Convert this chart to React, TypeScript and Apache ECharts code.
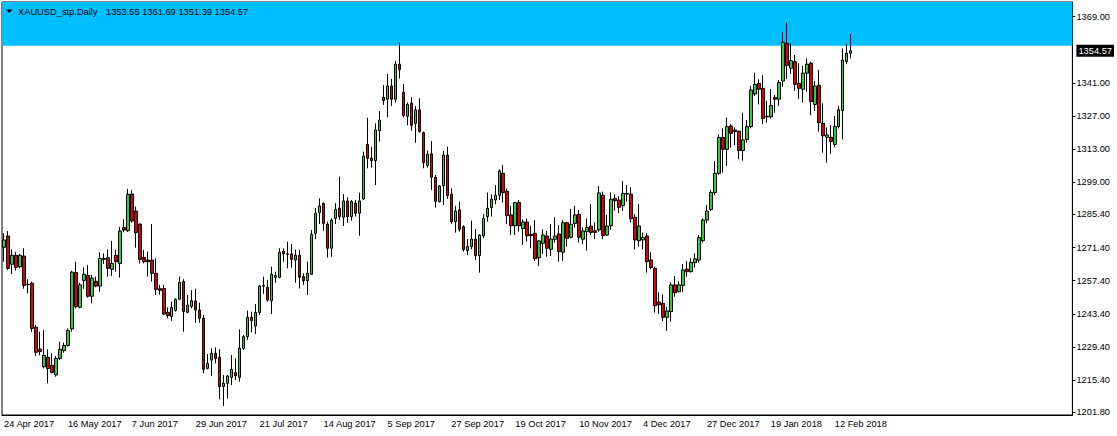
import React, { useEffect, useRef } from "react";
import * as echarts from "echarts";

// Date labels shown every 16 bars
const tickLabels = [
  "24 Apr 2017", "16 May 2017", "7 Jun 2017", "29 Jun 2017", "21 Jul 2017", "14 Aug 2017",
  "5 Sep 2017", "27 Sep 2017", "19 Oct 2017", "10 Nov 2017", "4 Dec 2017", "27 Dec 2017",
  "19 Jan 2018", "12 Feb 2018",
];
const labelStep = 16;
const totalSlots = 268; // bars + empty right margin

const opens = [
  1271.5, 1276.3, 1264.3, 1268.1, 1263.3, 1267.8, 1255.9, 1256.3, 1237.7, 1228.5,
  1221.0, 1225.0, 1221.6, 1217.5, 1224.5, 1227.8, 1230.0, 1237.0, 1260.8, 1246.1,
  1257.5, 1259.6, 1250.8, 1257.1, 1255.1, 1266.4, 1267.1, 1262.2, 1268.1, 1264.7,
  1279.9, 1278.5, 1294.0, 1286.8, 1281.3, 1267.2, 1266.1, 1266.1, 1260.5, 1254.0,
  1254.1, 1244.0, 1242.3, 1244.8, 1249.6, 1257.0, 1244.0, 1246.5, 1248.8, 1245.0,
  1241.5, 1220.3, 1223.8, 1226.7, 1225.0, 1212.6, 1214.0, 1216.5, 1218.6, 1216.5,
  1228.8, 1233.7, 1241.9, 1238.2, 1243.9, 1255.1, 1254.6, 1248.9, 1258.8, 1258.8,
  1269.8, 1268.7, 1268.7, 1266.1, 1268.1, 1259.1, 1257.4, 1260.1, 1277.4, 1286.1,
  1290.1, 1281.3, 1271.1, 1283.7, 1288.0, 1284.2, 1291.1, 1284.5, 1290.1, 1285.9,
  1291.9, 1315.0, 1309.2, 1308.1, 1320.8, 1334.9, 1334.1, 1339.7, 1334.1, 1348.9,
  1337.0, 1326.9, 1332.4, 1323.9, 1329.6, 1320.0, 1306.0, 1311.0, 1301.1, 1290.8,
  1297.6, 1310.5, 1294.0, 1282.3, 1287.3, 1280.2, 1270.1, 1271.8, 1275.0, 1268.0,
  1276.3, 1284.5, 1288.3, 1291.5, 1293.5, 1302.8, 1295.2, 1285.2, 1280.6, 1290.4,
  1279.4, 1282.2, 1277.0, 1277.4, 1267.1, 1273.2, 1276.3, 1270.6, 1274.9, 1277.1,
  1269.4, 1281.9, 1275.7, 1281.6, 1285.4, 1274.9, 1278.1, 1280.5, 1278.5, 1278.8,
  1293.5, 1276.7, 1280.6, 1292.2, 1291.5, 1289.1, 1294.2, 1294.0, 1284.2, 1274.3,
  1274.6, 1276.3, 1266.1, 1262.6, 1248.4, 1247.8, 1241.9, 1244.3, 1255.6, 1252.7,
  1255.3, 1262.3, 1261.2, 1265.0, 1266.1, 1274.3, 1283.0, 1287.5, 1294.6, 1302.8,
  1317.9, 1312.9, 1322.8, 1321.1, 1320.6, 1312.4, 1317.1, 1322.5, 1336.3, 1340.8,
  1338.7, 1326.6, 1326.7, 1334.9, 1334.1, 1341.8, 1357.7, 1347.2, 1350.0, 1340.8,
  1338.3, 1345.1, 1349.3, 1331.9, 1340.0, 1323.9, 1318.0, 1318.0, 1315.0, 1322.5,
  1329.3, 1350.0, 1353.55,
];
const highs = [
  1277.4, 1278.4, 1270.6, 1269.6, 1268.7, 1271.1, 1258.0, 1257.0, 1238.6, 1235.8,
  1236.5, 1228.4, 1226.7, 1225.5, 1231.6, 1231.2, 1237.2, 1261.6, 1265.4, 1256.5,
  1263.0, 1264.0, 1259.9, 1259.1, 1269.4, 1268.9, 1270.6, 1274.2, 1270.4, 1280.2,
  1283.3, 1296.2, 1295.7, 1288.7, 1281.6, 1270.4, 1269.7, 1281.3, 1266.8, 1255.6,
  1255.6, 1246.1, 1248.5, 1249.9, 1259.1, 1258.0, 1251.3, 1253.4, 1254.0, 1248.1,
  1242.9, 1226.4, 1228.8, 1229.2, 1228.4, 1217.5, 1217.5, 1226.0, 1224.5, 1236.8,
  1234.4, 1244.7, 1244.3, 1247.5, 1255.6, 1259.1, 1257.7, 1263.3, 1261.2, 1271.1,
  1271.1, 1273.9, 1272.9, 1270.6, 1270.4, 1260.5, 1265.4, 1278.8, 1288.0, 1292.2,
  1290.4, 1282.3, 1283.7, 1290.1, 1301.4, 1294.0, 1292.6, 1291.5, 1291.5, 1294.6,
  1311.9, 1326.3, 1314.0, 1323.9, 1329.1, 1340.1, 1344.8, 1342.7, 1350.3, 1358.0,
  1340.5, 1332.7, 1334.9, 1331.2, 1334.5, 1320.4, 1312.4, 1316.4, 1302.1, 1297.8,
  1312.2, 1314.0, 1296.4, 1289.0, 1290.8, 1280.8, 1275.0, 1282.8, 1279.2, 1277.0,
  1285.6, 1294.6, 1293.9, 1297.8, 1304.5, 1306.4, 1296.3, 1289.0, 1290.8, 1291.5,
  1283.3, 1283.7, 1280.5, 1283.0, 1274.6, 1279.1, 1278.4, 1281.3, 1284.2, 1280.9,
  1283.0, 1282.3, 1287.7, 1289.0, 1287.3, 1279.9, 1283.7, 1289.8, 1282.1, 1297.4,
  1295.0, 1285.2, 1294.7, 1293.9, 1293.2, 1299.5, 1297.8, 1296.9, 1285.6, 1289.8,
  1277.7, 1277.4, 1269.4, 1263.3, 1252.5, 1251.6, 1246.4, 1256.7, 1259.4, 1257.0,
  1264.4, 1265.7, 1266.8, 1268.9, 1276.7, 1283.7, 1289.4, 1295.7, 1308.0, 1319.3,
  1321.8, 1326.3, 1323.6, 1322.2, 1320.8, 1328.4, 1325.3, 1339.7, 1345.3, 1342.5,
  1344.3, 1333.5, 1338.4, 1335.9, 1342.2, 1362.4, 1366.5, 1357.7, 1352.8, 1349.3,
  1348.2, 1351.4, 1350.0, 1341.8, 1346.5, 1332.4, 1322.2, 1323.2, 1327.0, 1331.2,
  1355.6, 1357.5, 1361.69,
];
const lows = [
  1265.4, 1261.9, 1260.2, 1261.6, 1262.6, 1254.0, 1252.0, 1235.8, 1225.5, 1225.8,
  1220.3, 1214.0, 1218.2, 1216.8, 1223.8, 1226.9, 1229.5, 1235.8, 1245.7, 1245.7,
  1254.0, 1250.2, 1247.8, 1254.6, 1252.7, 1264.4, 1259.1, 1259.4, 1261.2, 1258.7,
  1277.8, 1278.0, 1281.9, 1271.3, 1264.7, 1264.7, 1259.1, 1257.0, 1251.3, 1251.5,
  1242.9, 1241.5, 1240.5, 1244.3, 1249.2, 1235.8, 1243.6, 1245.7, 1239.6, 1239.6,
  1218.2, 1219.9, 1217.1, 1222.4, 1207.2, 1204.4, 1207.6, 1213.3, 1215.4, 1214.7,
  1228.1, 1232.3, 1235.5, 1234.8, 1242.9, 1251.8, 1248.5, 1243.3, 1256.5, 1258.4,
  1265.4, 1262.6, 1262.9, 1256.5, 1254.1, 1255.6, 1251.3, 1259.8, 1274.9, 1281.3,
  1278.5, 1267.2, 1267.5, 1281.3, 1283.0, 1280.5, 1281.9, 1282.8, 1284.5, 1276.4,
  1291.5, 1304.9, 1305.2, 1297.8, 1316.2, 1331.7, 1326.4, 1331.2, 1332.7, 1342.8,
  1326.4, 1323.1, 1320.8, 1315.7, 1320.0, 1304.9, 1305.2, 1295.7, 1288.3, 1290.5,
  1289.4, 1291.9, 1281.3, 1277.7, 1278.1, 1269.7, 1268.2, 1270.6, 1266.1, 1260.8,
  1275.3, 1282.3, 1284.5, 1289.7, 1291.5, 1290.4, 1281.3, 1276.7, 1276.7, 1278.1,
  1272.5, 1273.9, 1271.1, 1265.7, 1263.6, 1268.7, 1267.5, 1267.8, 1273.5, 1265.4,
  1265.8, 1271.8, 1275.3, 1279.8, 1273.5, 1272.8, 1270.1, 1276.7, 1275.0, 1278.1,
  1274.9, 1276.3, 1278.8, 1287.0, 1285.9, 1286.8, 1290.8, 1281.9, 1270.6, 1271.8,
  1270.6, 1260.8, 1262.2, 1243.9, 1243.3, 1240.3, 1236.2, 1240.0, 1250.6, 1252.5,
  1252.5, 1259.1, 1260.8, 1263.0, 1265.0, 1273.5, 1281.6, 1286.8, 1293.6, 1302.1,
  1303.1, 1305.9, 1313.6, 1314.7, 1308.7, 1308.1, 1315.7, 1321.8, 1335.5, 1331.9,
  1323.6, 1324.2, 1326.0, 1328.4, 1331.2, 1339.4, 1342.7, 1344.8, 1337.7, 1334.2,
  1332.7, 1337.3, 1327.4, 1329.1, 1320.4, 1311.5, 1307.3, 1311.0, 1314.0, 1321.7,
  1317.1, 1348.9, 1351.39,
];
const closes = [
  1274.6, 1262.6, 1268.1, 1263.0, 1268.1, 1255.4, 1255.7, 1237.2, 1227.1, 1227.4,
  1225.8, 1220.2, 1218.6, 1224.5, 1228.4, 1230.0, 1236.4, 1261.0, 1246.4, 1255.6,
  1260.1, 1250.8, 1258.5, 1255.1, 1266.8, 1266.8, 1262.6, 1264.7, 1265.4, 1278.4,
  1278.8, 1293.9, 1282.6, 1277.7, 1266.4, 1265.4, 1265.4, 1260.5, 1253.7, 1253.3,
  1243.3, 1242.6, 1246.1, 1249.5, 1256.7, 1244.3, 1247.1, 1248.9, 1245.0, 1241.5,
  1219.9, 1222.4, 1226.7, 1224.5, 1212.6, 1214.0, 1217.1, 1219.9, 1217.2, 1228.8,
  1233.7, 1241.9, 1240.5, 1244.0, 1255.1, 1255.3, 1249.2, 1260.1, 1259.6, 1269.4,
  1268.7, 1268.5, 1266.4, 1268.1, 1258.8, 1257.4, 1260.5, 1277.0, 1285.9, 1289.0,
  1281.6, 1271.1, 1283.0, 1287.5, 1284.5, 1291.1, 1284.5, 1290.8, 1285.9, 1291.1,
  1310.1, 1309.1, 1308.1, 1321.1, 1325.3, 1333.5, 1339.7, 1334.1, 1348.9, 1346.7,
  1327.2, 1331.9, 1323.1, 1329.6, 1320.4, 1307.3, 1310.8, 1301.1, 1290.9, 1297.4,
  1310.5, 1293.3, 1282.3, 1286.8, 1279.1, 1270.6, 1271.8, 1275.0, 1268.0, 1276.6,
  1283.7, 1288.0, 1291.8, 1293.5, 1303.8, 1294.6, 1284.9, 1280.6, 1290.4, 1280.6,
  1282.2, 1276.4, 1276.4, 1266.7, 1274.2, 1276.7, 1271.1, 1275.0, 1276.3, 1269.7,
  1281.9, 1275.3, 1281.3, 1285.2, 1275.7, 1278.4, 1279.9, 1277.8, 1277.8, 1294.5,
  1276.4, 1280.5, 1291.8, 1291.2, 1288.4, 1294.3, 1294.0, 1283.6, 1274.6, 1280.5,
  1275.7, 1265.4, 1263.0, 1246.8, 1247.2, 1241.9, 1244.6, 1255.6, 1252.3, 1255.6,
  1261.9, 1261.2, 1265.1, 1266.6, 1275.6, 1283.0, 1286.8, 1294.7, 1302.8, 1317.9,
  1312.9, 1322.5, 1319.7, 1320.4, 1312.4, 1316.9, 1322.5, 1338.0, 1340.4, 1338.3,
  1326.0, 1326.9, 1331.4, 1334.1, 1341.2, 1358.2, 1348.3, 1350.4, 1340.4, 1338.7,
  1345.1, 1348.9, 1333.1, 1339.7, 1324.2, 1318.6, 1319.0, 1316.2, 1322.5, 1329.6,
  1350.7, 1353.5, 1354.57,
];

// Price scale labels on the right axis
const yTickValues = [1369.0, 1341.0, 1327.0, 1313.0, 1299.0, 1285.4, 1271.4, 1257.4, 1243.4, 1229.4, 1215.4, 1201.8];
const yMin = 1200.6;
const yMax = 1375.2;
const zoneBottom = 1356.7; // lower edge of the highlighted zone
const symbolTitle = "XAUUSD_stp,Daily";

const FONT = "'Liberation Sans', Arial, sans-serif";
const FS = 9.3;

export default function App() {
  const ref = useRef<HTMLDivElement>(null);

  useEffect(() => {
    const chart = echarts.init(ref.current!, null, { renderer: "svg" });
    const n = opens.length;
    const lastClose = closes[n - 1];
    const categories = Array.from({ length: totalSlots }, (_, i) => String(i));
    const data = opens.map((o, i) => [o, closes[i], lows[i], highs[i]]);
    const showIdx = (i: number) => i % labelStep === 0 && i / labelStep < tickLabels.length;
    const ohlcText = [opens[n - 1], highs[n - 1], lows[n - 1], closes[n - 1]].map((v) => v.toFixed(2)).join(" ");

    chart.setOption({
      animation: false,
      backgroundColor: "#fff",
      grid: {
        left: 2,
        top: 2,
        width: 1072,
        height: 413,
        show: true,
        borderColor: "#000",
        borderWidth: 1,
        containLabel: false,
      },
      xAxis: {
        type: "category",
        data: categories,
        boundaryGap: true,
        axisLine: { lineStyle: { color: "#000", width: 1 } },
        axisTick: { alignWithLabel: true, interval: showIdx, length: 4, lineStyle: { color: "#000" } },
        axisLabel: {
          interval: showIdx,
          formatter: (_v: string, i: number) => tickLabels[i / labelStep] ?? "",
          align: "left",
          margin: 4,
          color: "#000",
          fontSize: FS,
          fontFamily: FONT,
        },
        splitLine: { show: false },
      },
      yAxis: {
        type: "value",
        position: "right",
        min: yMin,
        max: yMax,
        scale: true,
        axisLine: { show: true, lineStyle: { color: "#000", width: 1 } },
        axisTick: { show: true, length: 3, customValues: yTickValues, lineStyle: { color: "#000" } },
        axisLabel: {
          customValues: [...yTickValues, lastClose],
          formatter: (v: number) => (Math.abs(v - lastClose) < 1e-6 ? `{cur|${v.toFixed(2)}}` : v.toFixed(2)),
          margin: 4,
          color: "#000",
          fontSize: FS,
          fontFamily: FONT,
          rich: {
            cur: {
              backgroundColor: "#000",
              color: "#fff",
              padding: [2, 2, 1, 2],
              fontSize: FS,
              fontFamily: FONT,
            },
          },
        },
        splitLine: { show: false },
      },
      series: [
        {
          type: "candlestick",
          data,
          barWidth: 3,
          itemStyle: {
            color: "#32CD32",
            color0: "#DD0000",
            borderColor: "#000",
            borderColor0: "#000",
            borderWidth: 1,
          },
          markArea: {
            silent: true,
            itemStyle: { color: "#00BFFF", opacity: 1 },
            data: [[{ yAxis: zoneBottom }, { yAxis: yMax }]],
          },
        },
      ],
      graphic: [
        {
          type: "polygon",
          shape: { points: [[6, 9.5], [12.5, 9.5], [9.25, 13]] },
          style: { fill: "#000" },
          z: 100,
        },
        {
          type: "text",
          x: 18,
          y: 11.5,
          style: { text: symbolTitle, fontSize: FS, fontFamily: FONT, fill: "#000", verticalAlign: "middle" },
          z: 100,
        },
        {
          type: "text",
          x: 106,
          y: 11.5,
          style: { text: ohlcText, fontSize: FS, fontFamily: FONT, fill: "#000", verticalAlign: "middle" },
          z: 100,
        },
      ],
    });

    return () => chart.dispose();
  }, []);

  return (
    <div
      ref={ref}
      style={{ position: "fixed", left: 0, top: 0, width: 1117, height: 436, background: "#fff" }}
    />
  );
}
